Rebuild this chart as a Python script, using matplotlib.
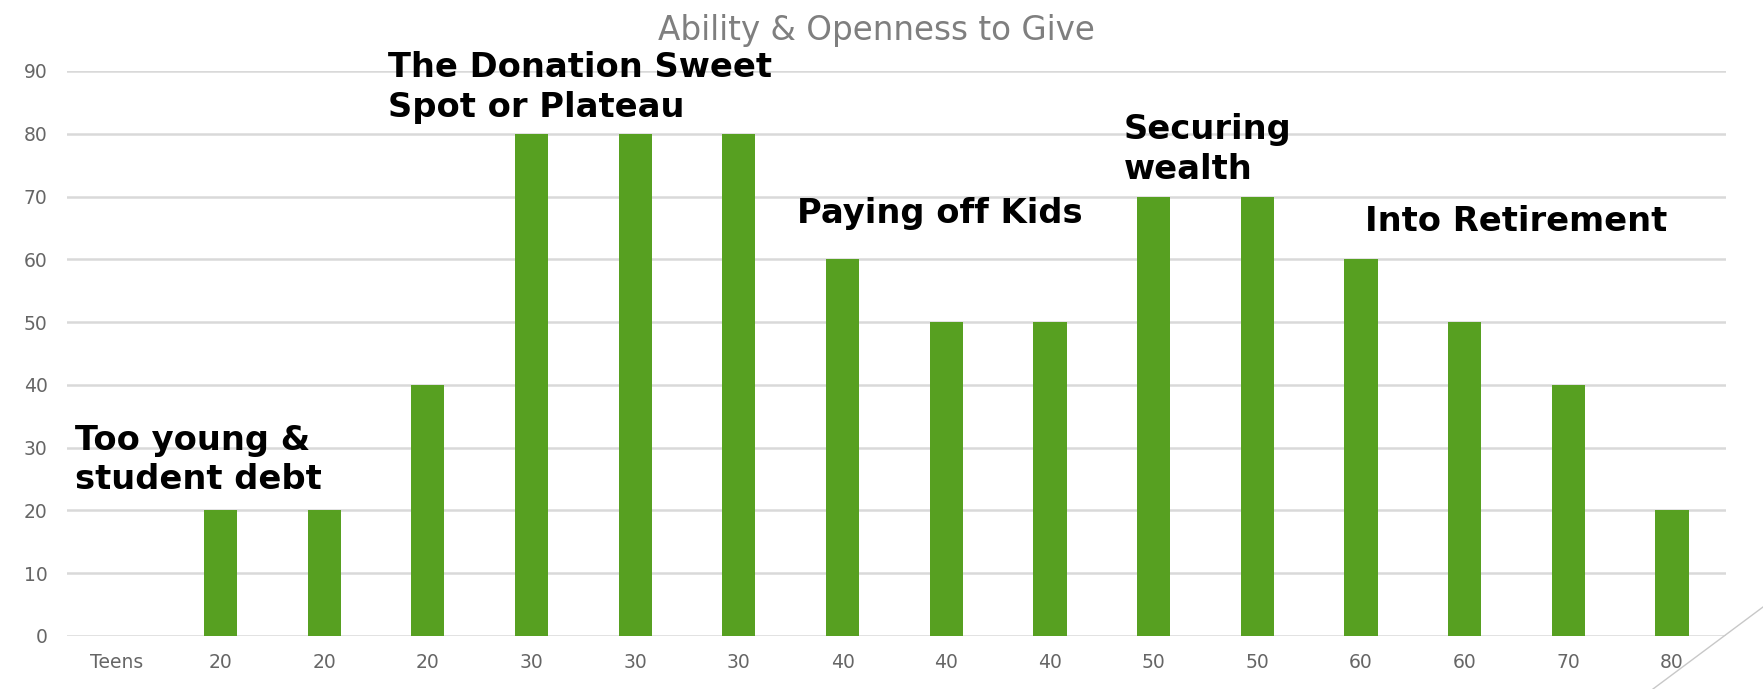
import matplotlib
matplotlib.use('Agg')
import matplotlib.pyplot as plt
from matplotlib.lines import Line2D

# data
categories = ['Teens', '20', '20', '20', '30', '30', '30', '40', '40', '40',
              '50', '50', '60', '60', '70', '80']
values = [0, 20, 20, 40, 80, 80, 80, 60, 50, 50, 70, 70, 60, 50, 40, 20]

notes = ['Too young &\nstudent debt', 'The Donation Sweet\nSpot or Plateau',
         'Paying off Kids', 'Securing\nwealth', 'Into Retirement']
note_x = [-0.40, 2.62, 6.56, 9.71, 12.04]
note_y = [28.0, 87.4, 67.3, 77.5, 66.0]

GREEN = '#57a021'
GRID = '#d9d9d9'
TICK = '#666666'

fig = plt.figure(figsize=(17.63, 6.89), dpi=100)
ax = fig.add_axes([0.038, 0.077, 0.941, 0.820])

x = range(len(categories))
ax.bar(x, values, width=0.32, color=GREEN, zorder=3)

ax.set_xlim(-0.48, 15.52)
ax.set_ylim(0, 90)
ax.set_yticks(range(0, 91, 10))
ax.set_xticks(list(x))
ax.set_xticklabels(categories)
ax.yaxis.grid(True, color=GRID, linewidth=1.8, zorder=0)
ax.tick_params(axis='both', length=0, labelsize=13.5, colors=TICK)
ax.tick_params(axis='x', pad=12)
ax.tick_params(axis='y', pad=14)
for s in ax.spines.values():
    s.set_visible(False)

fig.text(0.497, 0.956, 'Ability & Openness to Give', ha='center', va='center',
         fontsize=23.5, color='#7f7f7f')

for t, nx, ny in zip(notes, note_x, note_y):
    ax.text(nx, ny, t, ha='left', va='center', fontsize=24.3, fontweight='bold',
            color='black', linespacing=1.25, zorder=4)

# decorative slide line in the corner
fig.add_artist(Line2D([1653 / 1763, 1.0], [0.0, 1 - 607 / 689],
                      transform=fig.transFigure, color='#c8c8c8', linewidth=1))

fig.savefig('out.png', dpi=100)
